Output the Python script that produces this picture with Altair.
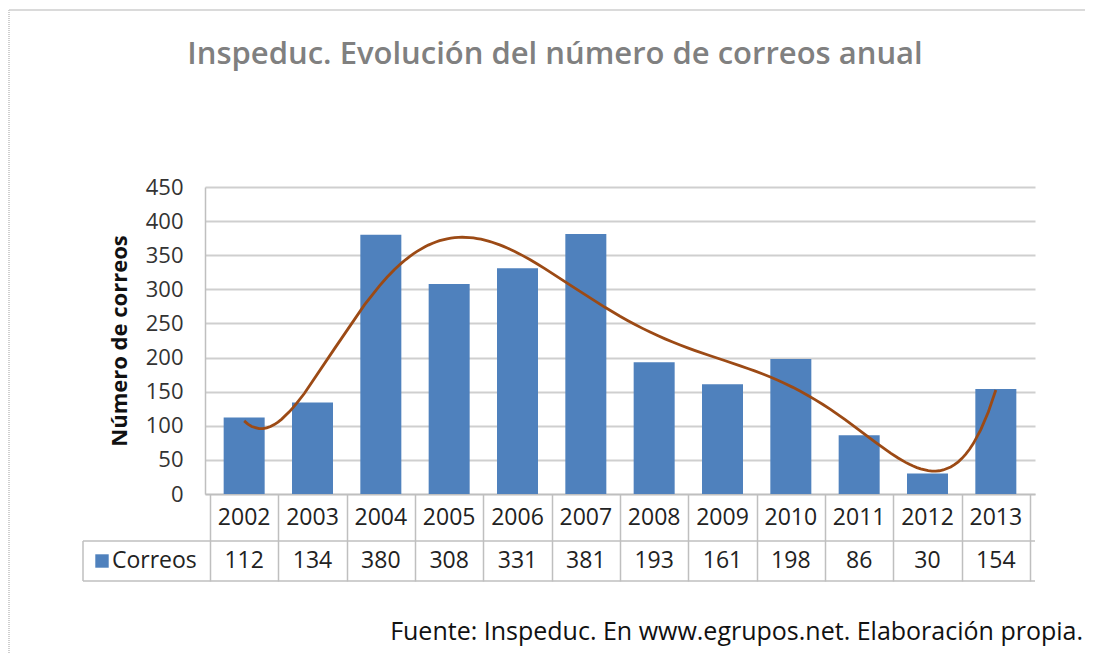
import altair as alt
import pandas as pd

years = [2002, 2003, 2004, 2005, 2006, 2007, 2008, 2009, 2010, 2011, 2012, 2013]
correos = [112, 134, 380, 308, 331, 381, 193, 161, 198, 86, 30, 154]
y_ticks = [0, 50, 100, 150, 200, 250, 300, 350, 400, 450]
title_text = "Inspeduc. Evolución del número de correos anual"
footer_text = "Fuente: Inspeduc. En www.egrupos.net. Elaboración propia."
series_name = "Correos"

df = pd.DataFrame({"year": years, "value": correos})
df["year_lbl"] = df["year"].astype(str)
df["value_lbl"] = df["value"].astype(str)

boundaries = [y - 0.5 for y in years] + [years[-1] + 0.5]

W, H = 830, 307
FONT = "Open Sans"
BLUE = "#4F81BD"
GRID = "#CFCFCF"
TBL = "#BFBFBF"

x_scale = alt.Scale(domain=[years[0] - 0.5, years[-1] + 0.5], nice=False, zero=False)
y_scale = alt.Scale(domain=[0, 450], nice=False)

x_axis = alt.Axis(values=boundaries, labels=False, title=None, grid=False,
                  tickSize=87, tickColor=TBL, tickWidth=1.5,
                  domainColor=TBL, domainWidth=1.5)
y_axis = alt.Axis(values=y_ticks, tickCount=10, title="Número de correos", grid=True,
                  gridColor=GRID, gridWidth=1.8, ticks=False,
                  domainColor=TBL, domainWidth=1.5,
                  labelOverlap=False, labelFlush=False,
                  labelFont=FONT, labelFontSize=22, labelColor="#333333",
                  labelPadding=22, titleFont=FONT, titleFontSize=22,
                  titleFontWeight="bold", titleColor="#111111",
                  titlePadding=14)

base = alt.Chart(df)

bars = base.mark_bar(size=41, color=BLUE).encode(
    x=alt.X("year:Q", scale=x_scale, axis=x_axis),
    y=alt.Y("value:Q", scale=y_scale, axis=y_axis),
)

trend = base.transform_regression(
    "year", "value", method="poly", order=6, extent=[years[0], years[-1]]
).mark_line(color="#9C4A15", strokeWidth=2.8).encode(
    x=alt.X("year:Q", scale=x_scale, axis=x_axis),
    y=alt.Y("value:Q", scale=y_scale, axis=y_axis),
)

year_text = base.mark_text(font=FONT, fontSize=23, color="#222222", baseline="middle").encode(
    x=alt.X("year:Q", scale=x_scale, axis=x_axis), y=alt.value(331), text="year_lbl:N"
)
value_text = base.mark_text(font=FONT, fontSize=23, color="#222222", baseline="middle").encode(
    x=alt.X("year:Q", scale=x_scale, axis=x_axis), y=alt.value(374), text="value_lbl:N"
)

one = alt.Chart(pd.DataFrame({"label": [series_name]}))

row_line1 = one.mark_rule(color=TBL, strokeWidth=1.5).encode(
    x=alt.value(-122), x2=alt.value(W), y=alt.value(354))
row_line2 = one.mark_rule(color=TBL, strokeWidth=1.5).encode(
    x=alt.value(-122), x2=alt.value(W), y=alt.value(394))
left_edge = one.mark_rule(color=TBL, strokeWidth=1.5).encode(
    x=alt.value(-122), y=alt.value(354), y2=alt.value(394))

legend_sq = one.mark_square(color=BLUE, size=180, opacity=1).encode(
    x=alt.value(-103), y=alt.value(374))
legend_txt = one.mark_text(font=FONT, fontSize=23, color="#222222", align="left",
                           baseline="middle").encode(
    x=alt.value(-93), y=alt.value(374), text="label:N")

title = one.mark_text(font=FONT, fontSize=31, color="#808080", fontWeight=600,
                      baseline="middle").encode(
    x=alt.value(350), y=alt.value(-132), text=alt.value(title_text))
footer = one.mark_text(font=FONT, fontSize=25, color="#111111", align="right",
                       baseline="middle").encode(
    x=alt.value(878), y=alt.value(445), text=alt.value(footer_text))

frame_top = one.mark_rule(color="#DADADA", strokeWidth=2).encode(
    x=alt.value(-196), x2=alt.value(889), y=alt.value(-177))
frame_left = one.mark_rule(color="#CFCFCF", strokeWidth=2, strokeDash=[1, 1]).encode(
    x=alt.value(-196), y=alt.value(-177), y2=alt.value(470))

chart = alt.layer(
    frame_top, frame_left, bars, trend, year_text, value_text,
    row_line1, row_line2, left_edge, legend_sq, legend_txt, title, footer
).properties(
    width=W, height=H,
    autosize=alt.AutoSizeParams(type="none"),
    padding={"left": 197, "top": 179, "right": 50, "bottom": 160},
    background="white",
).configure_view(stroke=None)

chart.save("out.html", embed_options={"renderer": "svg", "actions": False})
